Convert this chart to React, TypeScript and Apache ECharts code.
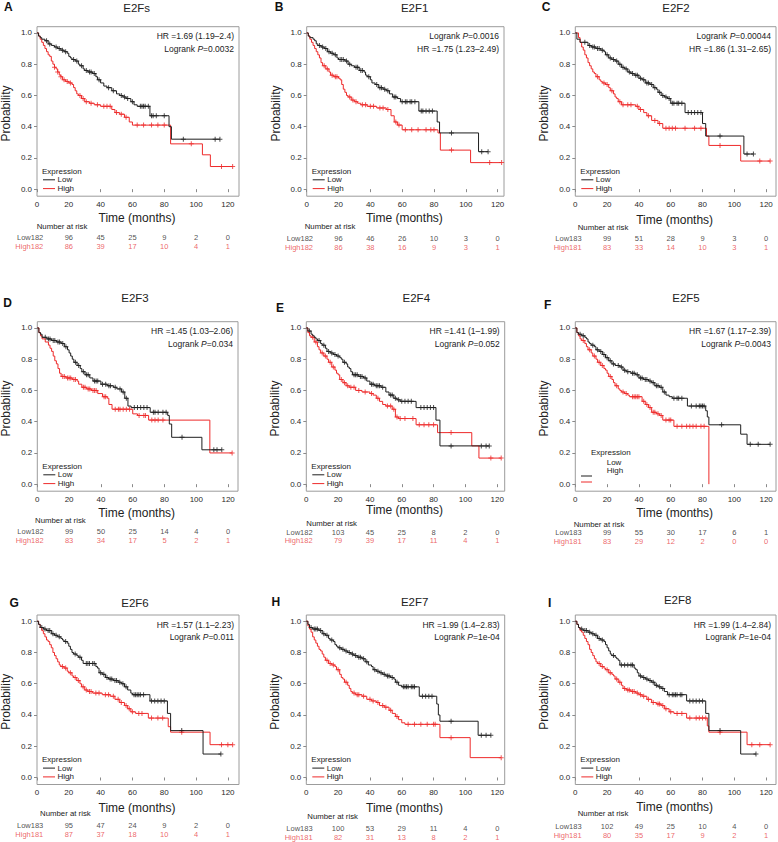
import React, { useEffect, useRef } from "react";
import * as echarts from "echarts";

type Pt = [number, number];

// ---------------- data ----------------
const panelLetters = ["A", "B", "C", "D", "E", "F", "G", "H", "I"];
const panelTitles = ["E2Fs", "E2F1", "E2F2", "E2F3", "E2F4", "E2F5", "E2F6", "E2F7", "E2F8"];
const hrTexts = [
  "HR =1.69 (1.19–2.4)",
  "HR =1.75 (1.23–2.49)",
  "HR =1.86 (1.31–2.65)",
  "HR =1.45 (1.03–2.06)",
  "HR =1.41 (1–1.99)",
  "HR =1.67 (1.17–2.39)",
  "HR =1.57 (1.1–2.23)",
  "HR =1.99 (1.4–2.83)",
  "HR =1.99 (1.4–2.84)",
];
const logrankP = ["0.0032", "0.0016", "0.00044", "0.034", "0.052", "0.0043", "0.011", "1e-04", "1e-04"];
const logrankFirst = [false, true, true, false, false, false, false, false, false];
const xTickValues = [0, 20, 40, 60, 80, 100, 120];
const yTickValues = [0, 0.2, 0.4, 0.6, 0.8, 1.0];
const riskTimes = [0, 20, 40, 60, 80, 100, 120];
const groupNames = ["Low", "High"];
const legendTitle = "Expression";
const xAxisTitle = "Time (months)";
const yAxisTitle = "Probability";
const riskTitle = "Number at risk";

// A: E2Fs
const lowStepsA: Pt[] = [[0,1],[1,0.98],[2,0.97],[3,0.96],[5,0.95],[7,0.93],[9,0.92],[11,0.91],[13,0.9],[15,0.89],[17,0.88],[19,0.87],[20,0.85],[21,0.84],[22,0.83],[24,0.82],[26,0.8],[27,0.79],[29,0.77],[30,0.76],[32,0.75],[35,0.74],[37,0.72],[38,0.7],[40,0.68],[42,0.66],[44,0.65],[47,0.63],[50,0.61],[52,0.6],[54,0.59],[56,0.58],[59,0.56],[61,0.54],[63,0.53],[71,0.47],[83,0.4],[84.5,0.32],[115,0.32]];
const highStepsA: Pt[] = [[0,1],[1,0.98],[2,0.96],[3,0.94],[4,0.92],[5,0.9],[6,0.88],[7,0.86],[8,0.85],[9,0.82],[10,0.8],[11,0.78],[12,0.77],[13,0.75],[14,0.73],[15,0.72],[16,0.7],[18,0.69],[20,0.68],[22,0.67],[23,0.65],[24,0.63],[25,0.61],[26,0.6],[28,0.58],[30,0.56],[33,0.55],[36,0.54],[40,0.53],[47,0.51],[49,0.49],[52,0.48],[55,0.46],[58,0.43],[60,0.41],[84,0.29],[104,0.22],[109,0.145],[123,0.145]];
const lowCensA = [6,8,12,14,16,18,23,25,28,31,33,34,36,39,45,48,53,55,57,60,65,66,67,68,70,72,73,75,80,92,112,115];
const highCensA = [11,13,15,17,19,21,27,29,31,34,38,42,44,46,50,53,56,63,67,72,76,80,97,116,123];
const riskLowA = [182, 96, 45, 25, 9, 2, 0];
const riskHighA = [182, 86, 39, 17, 10, 4, 1];

// B: E2F1
const lowStepsB: Pt[] = [[0,1],[1,0.98],[2,0.97],[4,0.96],[5,0.95],[6,0.93],[7,0.92],[9,0.91],[11,0.9],[13,0.88],[15,0.87],[17,0.86],[19,0.84],[20,0.83],[24,0.82],[26,0.8],[28,0.79],[30,0.78],[33,0.76],[36,0.75],[37,0.73],[38,0.72],[40,0.7],[41,0.68],[43,0.67],[45,0.65],[48,0.64],[50,0.63],[52,0.61],[54,0.59],[57,0.58],[59,0.56],[70.5,0.5],[82,0.43],[83.5,0.36],[108,0.24],[114,0.24]];
const highStepsB: Pt[] = [[0,1],[1,0.98],[2,0.96],[3,0.94],[4,0.92],[5,0.9],[6,0.88],[7,0.86],[8,0.84],[9,0.81],[10,0.79],[12,0.77],[14,0.75],[15,0.73],[17,0.72],[20,0.71],[21,0.7],[22,0.67],[23,0.64],[24,0.62],[25,0.6],[26,0.59],[28,0.57],[30,0.56],[32,0.55],[34,0.54],[38,0.53],[44,0.52],[50,0.51],[53,0.47],[55,0.43],[57,0.41],[60,0.38],[82.5,0.36],[84,0.25],[103,0.17],[122.5,0.17]];
const lowCensB = [8,10,12,14,16,18,21,22,23,25,27,31,32,34,35,39,44,46,47,49,51,55,56,60,62,63,65,66,68,72,73,75,77,79,91,110,114];
const highCensB = [11,13,16,18,19,27,29,31,35,37,40,42,46,48,51,56,58,62,66,70,75,78,80,91,115,122.5];
const riskLowB = [182, 96, 46, 26, 10, 3, 0];
const riskHighB = [182, 86, 38, 16, 9, 3, 1];

// C: E2F2
const lowStepsC: Pt[] = [[0,1],[1,0.96],[3,0.94],[8,0.92],[10,0.91],[13,0.9],[16,0.89],[18,0.88],[19,0.86],[21,0.84],[23,0.83],[25,0.82],[27,0.8],[29,0.78],[31,0.77],[33,0.75],[35,0.74],[37,0.73],[40,0.71],[42,0.7],[44,0.68],[47,0.67],[49,0.65],[51,0.64],[52,0.62],[54,0.6],[56,0.59],[58,0.58],[60,0.55],[69,0.49],[80,0.42],[82,0.34],[106,0.225],[112,0.225]];
const highStepsC: Pt[] = [[0,1],[2,0.97],[3,0.94],[4,0.91],[5,0.89],[6,0.86],[7,0.84],[8,0.81],[9,0.79],[10,0.77],[11,0.75],[12,0.74],[13,0.72],[15,0.7],[16,0.69],[17,0.68],[19,0.67],[21,0.65],[22,0.63],[24,0.61],[25,0.59],[26,0.58],[27,0.56],[29,0.54],[38,0.53],[40,0.51],[43,0.49],[45,0.47],[48,0.44],[52,0.42],[55,0.39],[82.5,0.34],[84,0.28],[104,0.18],[122.5,0.18]];
const lowCensC = [6,9,11,12,14,15,17,20,22,24,26,28,30,32,34,36,38,39,41,43,45,46,48,50,53,55,57,59,61,62,64,65,67,71,73,75,77,79,91,108,112];
const highCensC = [14,18,20,23,28,30,33,35,39,41,46,50,53,57,59,61,63,69,75,79,91,116,122.5];
const riskLowC = [183, 99, 51, 28, 9, 3, 0];
const riskHighC = [181, 83, 33, 14, 10, 3, 1];

// D: E2F3
const lowStepsD: Pt[] = [[0,1],[1,0.97],[2,0.96],[3,0.94],[6,0.93],[9,0.92],[12,0.91],[15,0.9],[17,0.88],[19,0.86],[20,0.84],[21,0.82],[22,0.8],[23,0.78],[25,0.76],[27,0.74],[28,0.72],[30,0.7],[33,0.68],[35,0.66],[40,0.64],[44,0.63],[48,0.62],[50,0.61],[53,0.59],[55,0.55],[57,0.5],[59,0.49],[71,0.46],[82,0.44],[83,0.385],[84.5,0.3],[103.5,0.22],[116,0.22]];
const highStepsD: Pt[] = [[0,1],[1,0.97],[2,0.95],[3,0.93],[5,0.91],[7,0.89],[8,0.87],[9,0.85],[10,0.82],[11,0.79],[12,0.77],[13,0.74],[14,0.71],[15,0.69],[18,0.68],[22,0.67],[25,0.66],[26,0.64],[28,0.62],[31,0.61],[34,0.6],[38,0.58],[41,0.56],[44,0.55],[45,0.51],[47,0.48],[60,0.45],[63,0.44],[70,0.41],[108.5,0.2],[122.5,0.2]];
const lowCensD = [5,7,8,10,11,13,14,16,18,24,26,29,31,32,36,37,38,41,43,45,46,49,52,54,56,61,63,65,67,69,73,74,76,79,81,91,111,113,116];
const highCensD = [16,17,19,20,21,23,24,29,30,32,33,35,36,37,42,43,49,51,52,54,56,58,64,67,68,72,74,76,79,122.5];
const riskLowD = [182, 99, 50, 25, 14, 4, 0];
const riskHighD = [182, 83, 34, 17, 5, 2, 1];

// E: E2F4
const lowStepsE: Pt[] = [[0,1],[1,0.98],[3,0.96],[4,0.95],[5,0.94],[6,0.93],[7,0.92],[9,0.9],[10,0.89],[12,0.87],[13,0.85],[15,0.84],[17,0.83],[19,0.82],[21,0.81],[22,0.8],[23,0.78],[25,0.77],[26,0.75],[27,0.74],[28,0.72],[29,0.7],[33,0.69],[36,0.68],[38,0.66],[40,0.64],[43,0.63],[47,0.62],[50,0.59],[52,0.57],[55,0.55],[57,0.54],[59,0.53],[69,0.49],[81.5,0.41],[84,0.245],[115,0.245]];
const highStepsE: Pt[] = [[0,1],[1,0.97],[2,0.95],[3,0.94],[5,0.91],[7,0.88],[8,0.86],[9,0.84],[11,0.82],[13,0.8],[14,0.78],[16,0.75],[18,0.73],[19,0.71],[20,0.7],[21,0.67],[23,0.65],[25,0.63],[27,0.62],[31,0.6],[35,0.59],[40,0.58],[42,0.57],[44,0.55],[46,0.53],[48,0.51],[50,0.5],[54,0.48],[56,0.43],[58,0.42],[69,0.38],[82.5,0.33],[104,0.245],[108.5,0.167],[122.5,0.167]];
const lowCensE = [2,8,11,14,16,18,20,24,30,31,32,34,35,37,41,42,44,45,46,48,53,54,56,58,60,62,64,66,72,74,76,78,80,91,110,113,115];
const highCensE = [4,6,10,12,15,17,22,24,26,28,30,33,37,41,45,51,53,55,57,59,62,67,71,74,77,80,91,116,122.5];
const riskLowE = [182, 103, 45, 25, 8, 2, 0];
const riskHighE = [182, 79, 39, 17, 11, 4, 1];

// F: E2F5
const lowStepsF: Pt[] = [[0,1],[1,0.97],[2,0.96],[4,0.95],[6,0.94],[7,0.93],[8,0.91],[9,0.9],[10,0.89],[12,0.88],[13,0.86],[15,0.85],[17,0.83],[19,0.81],[21,0.79],[23,0.77],[25,0.76],[28,0.75],[30,0.73],[32,0.72],[35,0.71],[38,0.7],[40,0.68],[43,0.67],[46,0.66],[48,0.65],[50,0.63],[53,0.62],[55,0.59],[57,0.57],[59,0.56],[61,0.55],[70.5,0.5],[82,0.47],[83,0.43],[84,0.38],[104,0.32],[108,0.255],[122.5,0.255]];
const highStepsF: Pt[] = [[0,1],[1,0.97],[2,0.95],[3,0.93],[4,0.92],[6,0.9],[7,0.88],[8,0.86],[10,0.84],[11,0.82],[13,0.8],[14,0.78],[16,0.76],[18,0.74],[19,0.73],[20,0.71],[21,0.69],[23,0.67],[24,0.65],[25,0.63],[27,0.61],[28,0.6],[29,0.59],[31,0.58],[33,0.57],[34,0.56],[42,0.53],[44,0.51],[46,0.49],[48,0.46],[51,0.45],[53,0.44],[55,0.41],[62,0.37],[84,0]];
const lowCensF = [3,5,11,14,16,18,20,22,24,27,29,31,33,36,37,39,41,42,44,45,47,49,51,52,54,56,62,64,65,67,73,76,78,79,80,81,92,110,115,122.5];
const highCensF = [5,9,12,15,17,22,26,30,32,36,37,38,39,40,43,45,47,49,50,52,54,57,59,60,64,67,70,72,74,76,79,81];
const riskLowF = [183, 99, 55, 30, 17, 6, 1];
const riskHighF = [181, 83, 29, 12, 2, 0, 0];

// G: E2F6
const lowStepsG: Pt[] = [[0,1],[1,0.98],[2,0.96],[4,0.95],[6,0.94],[9,0.92],[11,0.91],[13,0.9],[15,0.89],[16,0.88],[17,0.87],[19,0.86],[20,0.84],[21,0.82],[22,0.8],[23,0.79],[25,0.78],[26,0.77],[28,0.75],[29,0.73],[37,0.71],[38,0.7],[39,0.67],[41,0.66],[43,0.64],[45,0.63],[48,0.62],[51,0.61],[53,0.6],[55,0.58],[57,0.56],[59,0.54],[60,0.53],[71,0.49],[82,0.41],[84,0.3],[104.4,0.15],[115.6,0.15]];
const highStepsG: Pt[] = [[0,1],[1,0.98],[2,0.96],[3,0.94],[4,0.92],[5,0.9],[6,0.88],[7,0.87],[8,0.85],[9,0.83],[10,0.8],[11,0.78],[12,0.76],[13,0.74],[14,0.72],[15,0.71],[17,0.7],[19,0.68],[20,0.67],[22,0.65],[23,0.64],[25,0.62],[27,0.6],[28,0.58],[30,0.56],[32,0.55],[35,0.54],[41,0.53],[46,0.52],[49,0.5],[52,0.48],[55,0.46],[57,0.44],[59,0.42],[62,0.41],[70,0.38],[82.5,0.325],[84,0.29],[108.8,0.21],[123,0.21]];
const lowCensG = [3,5,7,8,10,12,14,18,24,27,31,32,33,35,36,40,42,44,46,47,49,50,52,54,56,61,62,63,64,65,67,72,74,76,78,80,91,115.6];
const highCensG = [16,18,21,24,26,29,31,33,34,37,39,43,45,48,51,53,56,58,60,64,66,72,76,79,91,116,120,123];
const riskLowG = [183, 95, 47, 24, 9, 2, 0];
const riskHighG = [181, 87, 37, 18, 10, 4, 1];

// H: E2F7
const lowStepsH: Pt[] = [[0,1],[1,0.98],[2,0.96],[4,0.95],[8,0.94],[10,0.92],[12,0.91],[14,0.89],[15,0.88],[17,0.87],[18,0.85],[19,0.84],[20,0.83],[22,0.82],[24,0.81],[26,0.8],[28,0.79],[30,0.78],[32,0.77],[35,0.76],[37,0.74],[39,0.72],[41,0.71],[42,0.69],[44,0.68],[46,0.67],[48,0.66],[50,0.65],[53,0.64],[55,0.63],[56,0.61],[58,0.59],[60,0.58],[71,0.52],[82,0.47],[83,0.4],[84,0.36],[108,0.27],[116,0.27]];
const highStepsH: Pt[] = [[0,1],[1,0.97],[2,0.95],[3,0.93],[4,0.9],[5,0.88],[6,0.86],[7,0.84],[8,0.82],[9,0.81],[10,0.79],[11,0.77],[12,0.75],[14,0.73],[16,0.72],[18,0.71],[19,0.69],[21,0.66],[22,0.64],[23,0.63],[24,0.61],[26,0.59],[27,0.57],[28,0.55],[29,0.54],[31,0.53],[35,0.52],[38,0.5],[41,0.49],[44,0.48],[46,0.46],[49,0.45],[52,0.43],[54,0.41],[56,0.39],[58,0.37],[60,0.35],[62,0.34],[84,0.255],[103,0.127],[122.5,0.127]];
const lowCensH = [3,5,6,7,9,11,13,16,21,23,25,27,29,31,33,34,36,38,43,45,47,49,51,52,54,57,61,62,63,64,66,67,68,73,75,77,79,91,110,113,116];
const highCensH = [13,15,17,20,25,30,32,33,36,40,42,45,48,50,53,57,64,68,72,76,80,81,91,122.5];
const riskLowH = [183, 100, 53, 29, 11, 4, 0];
const riskHighH = [181, 82, 31, 13, 8, 2, 1];

// I: E2F8
const lowStepsI: Pt[] = [[0,1],[1,0.98],[2,0.96],[3,0.95],[5,0.94],[8,0.93],[10,0.92],[12,0.91],[14,0.89],[16,0.88],[18,0.87],[19,0.85],[20,0.83],[21,0.81],[22,0.79],[23,0.78],[25,0.77],[26,0.76],[27,0.75],[28,0.72],[37,0.7],[38,0.69],[39,0.67],[40,0.65],[42,0.64],[44,0.63],[46,0.62],[48,0.61],[50,0.59],[52,0.58],[54,0.57],[56,0.55],[58,0.53],[70,0.49],[82,0.41],[84,0.3],[104,0.15],[113.6,0.15]];
const highStepsI: Pt[] = [[0,1],[1,0.98],[2,0.96],[3,0.94],[4,0.93],[5,0.91],[6,0.89],[7,0.87],[8,0.85],[9,0.82],[10,0.8],[11,0.78],[12,0.76],[13,0.74],[14,0.73],[16,0.71],[18,0.7],[19,0.69],[21,0.67],[23,0.66],[24,0.65],[25,0.63],[27,0.61],[29,0.59],[30,0.57],[32,0.56],[35,0.55],[38,0.54],[40,0.53],[42,0.52],[45,0.5],[48,0.48],[51,0.47],[54,0.46],[56,0.44],[59,0.42],[62,0.41],[70,0.38],[83,0.33],[84,0.29],[108,0.21],[122.5,0.21]];
const lowCensI = [4,6,7,9,11,13,15,17,24,29,31,33,35,36,41,43,45,47,49,51,53,55,59,61,62,63,64,66,67,72,74,76,78,80,91,113.6];
const highCensI = [15,17,20,22,26,28,31,33,34,36,37,39,41,43,46,49,52,53,55,57,60,64,67,72,76,78,80,82,91,111,116,122.5];
const riskLowI = [183, 102, 49, 25, 10, 4, 0];
const riskHighI = [181, 80, 35, 17, 9, 2, 1];

const PANEL_DATA = [
  { low: lowStepsA, high: highStepsA, lowC: lowCensA, highC: highCensA, rLow: riskLowA, rHigh: riskHighA },
  { low: lowStepsB, high: highStepsB, lowC: lowCensB, highC: highCensB, rLow: riskLowB, rHigh: riskHighB },
  { low: lowStepsC, high: highStepsC, lowC: lowCensC, highC: highCensC, rLow: riskLowC, rHigh: riskHighC },
  { low: lowStepsD, high: highStepsD, lowC: lowCensD, highC: highCensD, rLow: riskLowD, rHigh: riskHighD },
  { low: lowStepsE, high: highStepsE, lowC: lowCensE, highC: highCensE, rLow: riskLowE, rHigh: riskHighE },
  { low: lowStepsF, high: highStepsF, lowC: lowCensF, highC: highCensF, rLow: riskLowF, rHigh: riskHighF },
  { low: lowStepsG, high: highStepsG, lowC: lowCensG, highC: highCensG, rLow: riskLowG, rHigh: riskHighG },
  { low: lowStepsH, high: highStepsH, lowC: lowCensH, highC: highCensH, rLow: riskLowH, rHigh: riskHighH },
  { low: lowStepsI, high: highStepsI, lowC: lowCensI, highC: highCensI, rLow: riskLowI, rHigh: riskHighI },
];

// ---------------- layout & style ----------------
const FONT = "'Liberation Sans', Arial, Helvetica, sans-serif";
const BLACK = "#1e1e1e";
const RED = "#ee2a2a";
const RED_TEXT = "#e8403f";
const BOX_H = 169.5;
const Y_MIN = -0.045;
const Y_MAX = 1.04;
const RISK_FONT = 7.5;
const LEGEND_FONT = 8;
const PLUS = "path://M4,0H6V4H10V6H6V10H4V6H0V4H4Z";

const LAYOUT = [
  { left: 37, top: 26.7, width: 202, xMax: 127, titleX: 136.7, titleY: 8.3, letterX: 8.3, letterY: 6.7, timeY: 218.3, narX: 36.7, narY: 226, lowY: 237.8, highY: 246.6 },
  { left: 306.7, top: 26.7, width: 197.3, xMax: 124, titleX: 414.7, titleY: 8.3, letterX: 279.2, letterY: 6.7, timeY: 218.3, narX: 304.7, narY: 226.5, lowY: 238.3, highY: 247.1 },
  { left: 575.3, top: 26.7, width: 200.7, xMax: 126.2, titleX: 676, titleY: 8.3, letterX: 546, letterY: 6.7, timeY: 220, narX: 577.7, narY: 227, lowY: 238.8, highY: 247.6 },
  { left: 37.3, top: 321.7, width: 200.7, xMax: 126.2, titleX: 135, titleY: 298.3, letterX: 7.5, letterY: 303.3, timeY: 513.3, narX: 35, narY: 520, lowY: 531.6, highY: 540.4 },
  { left: 306.3, top: 321.7, width: 198.4, xMax: 124.7, titleX: 416.3, titleY: 298.3, letterX: 280, letterY: 308.3, timeY: 510, narX: 306.3, narY: 523.4, lowY: 532, highY: 540.8 },
  { left: 575.3, top: 321.7, width: 200.7, xMax: 126.2, titleX: 686, titleY: 298.3, letterX: 547.7, letterY: 305, timeY: 513.3, narX: 573.7, narY: 524, lowY: 532.6, highY: 541.4 },
  { left: 37, top: 615, width: 202, xMax: 127, titleX: 135, titleY: 603.3, letterX: 14.2, letterY: 602.7, timeY: 808.3, narX: 40, narY: 813.5, lowY: 825.6, highY: 834.4 },
  { left: 306.3, top: 615, width: 198.4, xMax: 124.7, titleX: 414.7, titleY: 601.7, letterX: 275.8, letterY: 601.7, timeY: 808.3, narX: 307.3, narY: 816.6, lowY: 828.2, highY: 837 },
  { left: 575.3, top: 615, width: 200.7, xMax: 126.2, titleX: 677.7, titleY: 600, letterX: 549.7, letterY: 602.7, timeY: 806.7, narX: 577.7, narY: 813.5, lowY: 826.2, highY: 835 },
];

function survAt(steps: Pt[], t: number): number {
  let s = 1;
  for (const [x, y] of steps) {
    if (x <= t) s = y;
    else break;
  }
  return s;
}

function txt(x: number, y: number, text: string, opts: any = {}) {
  const align = opts.align || "center";
  const vAlign = opts.verticalAlign || "middle";
  return {
    type: "text",
    x,
    y,
    rotation: opts.rotation || 0,
    silent: true,
    style: {
      text,
      fontSize: opts.fontSize || 9,
      fontFamily: FONT,
      fontWeight: opts.fontWeight || "normal",
      fontStyle: opts.fontStyle || "normal",
      fill: opts.fill || BLACK,
      align,
      verticalAlign: vAlign,
      textAlign: align,
      textVerticalAlign: vAlign,
      rich: opts.rich,
    },
  };
}

function hline(x1: number, x2: number, y: number, color: string) {
  return { type: "line", silent: true, shape: { x1, y1: y, x2, y2: y }, style: { stroke: color, lineWidth: 1 } };
}

function buildOption() {
  const grid: any[] = [];
  const xAxis: any[] = [];
  const yAxis: any[] = [];
  const series: any[] = [];
  const graphic: any[] = [];

  PANEL_DATA.forEach((d, i) => {
    const L = LAYOUT[i];
    const gMain = 2 * i;
    const gRisk = 2 * i + 1;
    const boxRight = L.left + L.width;
    const boxBottom = L.top + BOX_H;

    grid.push({
      left: L.left, top: L.top, width: L.width, height: BOX_H,
      show: true, borderColor: "#9c9c9c", borderWidth: 1, backgroundColor: "transparent",
    });
    grid.push({
      left: L.left, top: L.lowY, width: L.width, height: L.highY - L.lowY, show: false,
    });

    xAxis.push({
      type: "value", gridIndex: gMain, min: 0, max: L.xMax,
      axisLine: { show: false }, splitLine: { show: false },
      axisTick: { show: true, length: 3, customValues: xTickValues, lineStyle: { color: "#8a8a8a", width: 1 } },
      axisLabel: { customValues: xTickValues, fontSize: 8, color: "#2a2a2a", margin: 4, fontFamily: FONT },
    });
    xAxis.push({ type: "value", gridIndex: gRisk, min: 0, max: L.xMax, show: false });

    yAxis.push({
      type: "value", gridIndex: gMain, min: Y_MIN, max: Y_MAX,
      axisLine: { show: false }, splitLine: { show: false },
      axisTick: { show: true, length: 3, customValues: yTickValues, lineStyle: { color: "#8a8a8a", width: 1 } },
      axisLabel: {
        customValues: yTickValues, fontSize: 8, color: "#2a2a2a", margin: 5, fontFamily: FONT,
        formatter: (v: number) => v.toFixed(1),
      },
    });
    yAxis.push({ type: "value", gridIndex: gRisk, min: 0, max: 1, show: false });

    // KM curves
    const curves = [
      { steps: d.high, cens: d.highC, color: RED },
      { steps: d.low, cens: d.lowC, color: BLACK },
    ];
    curves.forEach((c) => {
      series.push({
        type: "line", xAxisIndex: gMain, yAxisIndex: gMain, step: "end",
        data: c.steps, showSymbol: false, symbol: "none", silent: true,
        lineStyle: { color: c.color, width: 1 },
      });
      series.push({
        type: "scatter", xAxisIndex: gMain, yAxisIndex: gMain, silent: true,
        symbol: PLUS, symbolSize: 5,
        itemStyle: { color: c.color },
        data: c.cens.map((t) => [t, survAt(c.steps, t)]),
      });
    });

    // risk table: group name is joined to the first count, which stays centred on t = 0
    const rows = [
      { vals: d.rLow, y: 1, name: groupNames[0], color: "#222" },
      { vals: d.rHigh, y: 0, name: groupNames[1], color: RED_TEXT },
    ];
    rows.forEach((r) => {
      series.push({
        type: "scatter", xAxisIndex: gRisk, yAxisIndex: gRisk, silent: true,
        symbolSize: 1, itemStyle: { color: "transparent" },
        data: riskTimes.map((t, k) => {
          const item: any = { value: [t, r.y, r.vals[k]] };
          if (k === 0) item.label = { align: "right", offset: [6.3, 0] };
          return item;
        }),
        label: {
          show: true, position: "inside", fontSize: RISK_FONT, fontFamily: FONT, color: r.color,
          formatter: (p: any) => (p.dataIndex === 0 ? r.name : "") + String(p.value[2]),
        },
      });
    });

    // texts
    graphic.push(txt(L.letterX, L.letterY, panelLetters[i], { fontSize: 12, fontWeight: "bold", fill: "#111" }));
    graphic.push(txt(L.titleX, L.titleY, panelTitles[i], { fontSize: 11.5, fill: "#222" }));
    graphic.push(txt(L.left - 31, L.top + BOX_H / 2 + 2, yAxisTitle, { fontSize: 12, rotation: Math.PI / 2, fill: "#222" }));
    graphic.push(txt(L.left + L.width / 2 - 1, L.timeY, xAxisTitle, { fontSize: 12, fill: "#222" }));
    graphic.push(txt(L.narX, L.narY, riskTitle, { fontSize: 7.8, align: "left", fill: "#222" }));

    const hrLine = hrTexts[i];
    const lrLine = "Logrank {i|P}=" + logrankP[i];
    const lines = logrankFirst[i] ? [lrLine, hrLine] : [hrLine, lrLine];
    lines.forEach((ln, k) => {
      graphic.push(txt(boxRight - 5, L.top + 9.5 + k * 12.8, ln, {
        fontSize: 8.5, align: "right", fill: "#222",
        rich: { i: { fontStyle: "italic", fontSize: 8.5, fontFamily: FONT, fill: "#222" } },
      }));
    });

    // legend
    if (i === 5) {
      graphic.push(txt(L.left + 15.7, boxBottom - 38.5, legendTitle, { fontSize: LEGEND_FONT, align: "left", fill: "#222" }));
      graphic.push(txt(L.left + 31.4, boxBottom - 29.2, groupNames[0], { fontSize: LEGEND_FONT, align: "left", fill: "#222" }));
      graphic.push(txt(L.left + 31.4, boxBottom - 20.4, groupNames[1], { fontSize: LEGEND_FONT, align: "left", fill: "#222" }));
      graphic.push(hline(L.left + 5.7, L.left + 16.7, boxBottom - 15.2, BLACK));
      graphic.push(hline(L.left + 5.7, L.left + 16.7, boxBottom - 9.2, RED));
    } else {
      graphic.push(txt(L.left + 5, boxBottom - 25.2, legendTitle, { fontSize: LEGEND_FONT, align: "left", fill: "#222" }));
      graphic.push(hline(L.left + 6, L.left + 18, boxBottom - 16.4, BLACK));
      graphic.push(hline(L.left + 6, L.left + 18, boxBottom - 7.6, RED));
      graphic.push(txt(L.left + 20.5, boxBottom - 16.4, groupNames[0], { fontSize: LEGEND_FONT, align: "left", fill: "#222" }));
      graphic.push(txt(L.left + 20.5, boxBottom - 7.6, groupNames[1], { fontSize: LEGEND_FONT, align: "left", fill: "#222" }));
    }
  });

  return {
    animation: false,
    backgroundColor: "#ffffff",
    textStyle: { fontFamily: FONT },
    grid,
    xAxis,
    yAxis,
    series,
    graphic: { elements: graphic },
  };
}

export default function App() {
  const ref = useRef<HTMLDivElement>(null);
  useEffect(() => {
    if (!ref.current) return;
    const chart = echarts.init(ref.current, undefined, { renderer: "svg" });
    chart.setOption(buildOption() as any);
    return () => chart.dispose();
  }, []);
  return (
    <div
      ref={ref}
      style={{ position: "absolute", left: 0, top: 0, width: 778, height: 842, background: "#fff" }}
    />
  );
}
